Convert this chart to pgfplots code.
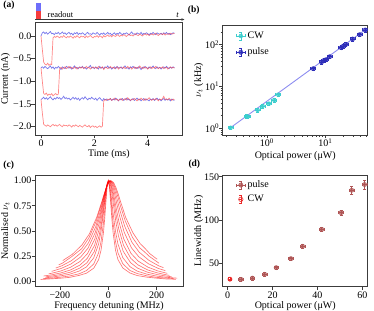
\documentclass[border=0pt]{standalone}
\usepackage{fontspec}
\setmainfont{Liberation Serif}
\usepackage{pgfplots}
\pgfplotsset{compat=1.18}
\usepackage{pgfplotstable}
\usetikzlibrary{arrows.meta}

\definecolor{trblue}{RGB}{85,85,230}
\definecolor{trred}{RGB}{255,70,70}
\definecolor{schblue}{RGB}{110,110,250}
\definecolor{schred}{RGB}{245,60,60}
\definecolor{cwc}{RGB}{60,205,205}
\definecolor{pulseb}{RGB}{45,45,185}
\definecolor{fitl}{RGB}{140,140,240}
\definecolor{pulsed}{RGB}{175,85,85}
\definecolor{cwd}{RGB}{235,40,40}
\definecolor{frame}{RGB}{60,60,60}

\pgfplotsset{
  myaxis/.style={
    scale only axis,
    axis line style={line width=0.6bp, frame},
    tick align=outside,
    tick pos=left,
    major tick length=3.5bp,
    minor tick length=2bp,
    every tick/.style={frame, line width=0.6bp},
    tick label style={font=\fontsize{10bp}{12bp}\selectfont},
    xticklabel style={inner sep=1bp},
    yticklabel style={inner sep=1bp, xshift=1bp},
    label style={font=\fontsize{10bp}{12bp}\selectfont, inner sep=1bp},
  },
  ccurve/.style={red, opacity=0.55, line width=0.65bp, mark=none},
}

\pgfplotstableread{
t b1 r1 b2 r2 b3 r3
0.00 0.00 0.00 -0.70 -0.70 -1.40 -1.40
0.05 0.07 -0.30 -0.68 -1.00 -1.38 -1.70
0.10 0.09 -0.58 -0.71 -1.27 -1.35 -1.95
0.15 0.05 -0.62 -0.67 -1.29 -1.39 -1.97
0.20 0.08 -0.64 -0.70 -1.26 -1.36 -1.99
0.25 0.04 -0.60 -0.72 -1.31 -1.40 -1.96
0.30 0.07 -0.65 -0.69 -1.28 -1.37 -1.98
0.35 0.10 -0.62 -0.66 -1.30 -1.34 -2.00
0.40 0.05 -0.63 -0.71 -1.27 -1.38 -1.97
0.45 0.06 -0.04 -0.68 -1.32 -1.41 -1.95
0.50 0.03 -0.01 -0.73 -1.29 -1.37 -1.98
0.55 0.07 -0.03 -0.69 -1.27 -1.39 -1.96
0.60 0.05 0.00 -0.71 -1.30 -1.35 -1.99
0.65 0.08 -0.02 -0.67 -1.28 -1.38 -1.97
0.70 0.04 -0.04 -0.70 -0.72 -1.36 -1.95
0.75 0.06 -0.01 -0.74 -0.69 -1.40 -1.98
0.80 0.09 -0.03 -0.68 -0.73 -1.37 -2.00
0.85 0.05 0.01 -0.70 -0.70 -1.33 -1.96
0.90 0.07 -0.02 -0.72 -0.68 -1.38 -1.98
0.95 0.03 -0.04 -0.67 -0.72 -1.36 -1.97
1.00 0.06 -0.01 -0.69 -0.70 -1.39 -1.99
1.05 0.08 -0.03 -0.71 -0.67 -1.37 -1.96
1.10 0.04 0.00 -0.68 -0.71 -1.41 -1.98
1.15 0.06 -0.02 -0.73 -0.69 -1.38 -2.01
1.20 0.02 -0.05 -0.70 -0.72 -1.35 -1.97
1.25 0.07 -0.01 -0.66 -0.70 -1.39 -1.99
1.30 0.05 -0.03 -0.71 -0.68 -1.36 -1.96
1.35 0.08 0.01 -0.69 -0.73 -1.40 -1.98
1.40 0.03 -0.02 -0.72 -0.70 -1.37 -2.00
1.45 0.06 -0.04 -0.68 -0.69 -1.42 -1.97
1.50 0.04 0.00 -0.70 -0.71 -1.38 -1.99
1.55 0.07 -0.02 -0.67 -0.68 -1.36 -2.01
1.60 0.05 -0.01 -0.71 -0.72 -1.39 -1.98
1.65 0.02 -0.04 -0.69 -0.70 -1.34 -1.96
1.70 0.06 0.00 -0.73 -0.67 -1.38 -1.99
1.75 0.08 -0.03 -0.70 -0.71 -1.41 -2.00
1.80 0.04 -0.01 -0.68 -0.69 -1.37 -1.97
1.85 0.05 0.01 -0.65 -0.73 -1.39 -2.02
1.90 0.03 -0.02 -0.71 -0.70 -1.35 -1.99
1.95 0.07 -0.04 -0.69 -0.68 -1.38 -1.98
2.00 0.05 -0.01 -0.72 -0.71 -1.40 -2.01
2.05 0.04 -0.02 -0.68 -0.69 -1.37 -1.99
2.10 0.08 0.01 -0.70 -0.72 -1.42 -2.02
2.15 0.05 -0.03 -0.73 -0.67 -1.38 -2.00
2.20 0.02 0.00 -0.67 -0.70 -1.36 -1.98
2.25 0.06 -0.01 -0.71 -0.71 -1.40 -2.01
2.30 0.04 -0.04 -0.69 -0.68 -1.43 -1.99
2.35 0.07 0.01 -0.72 -0.74 -1.38 -1.43
2.40 0.03 -0.02 -0.68 -0.70 -1.41 -1.40
2.45 0.05 0.00 -0.70 -0.69 -1.39 -1.42
2.50 0.08 0.02 -0.66 -0.72 -1.42 -1.39
2.55 0.04 -0.01 -0.71 -0.70 -1.40 -1.41
2.60 0.06 0.01 -0.69 -0.67 -1.38 -1.38
2.65 0.02 -0.02 -0.73 -0.71 -1.42 -1.42
2.70 0.05 0.02 -0.70 -0.69 -1.39 -1.40
2.75 0.07 0.00 -0.68 -0.72 -1.41 -1.37
2.80 0.03 -0.01 -0.72 -0.70 -1.37 -1.41
2.85 0.06 0.03 -0.67 -0.68 -1.40 -1.39
2.90 0.04 0.01 -0.70 -0.73 -1.43 -1.43
2.95 0.08 -0.01 -0.71 -0.69 -1.39 -1.40
3.00 0.05 0.02 -0.68 -0.70 -1.41 -1.38
3.05 0.03 0.00 -0.72 -0.71 -1.38 -1.42
3.10 0.06 0.03 -0.69 -0.68 -1.42 -1.40
3.15 0.04 0.01 -0.66 -0.72 -1.40 -1.38
3.20 0.07 -0.01 -0.71 -0.70 -1.37 -1.41
3.25 0.05 0.02 -0.70 -0.67 -1.41 -1.36
3.30 0.02 0.04 -0.73 -0.71 -1.39 -1.40
3.35 0.06 0.01 -0.68 -0.69 -1.43 -1.42
3.40 0.09 0.02 -0.70 -0.73 -1.40 -1.39
3.45 0.04 0.00 -0.67 -0.70 -1.38 -1.41
3.50 0.05 0.03 -0.71 -0.68 -1.42 -1.38
3.55 0.03 0.05 -0.69 -0.72 -1.40 -1.40
3.60 0.07 0.02 -0.72 -0.69 -1.37 -1.43
3.65 0.05 0.01 -0.68 -0.71 -1.41 -1.39
3.70 0.04 0.04 -0.70 -0.66 -1.39 -1.41
3.75 0.08 0.02 -0.74 -0.70 -1.43 -1.37
3.80 0.03 0.00 -0.69 -0.72 -1.40 -1.40
3.85 0.06 0.03 -0.71 -0.68 -1.38 -1.42
3.90 0.04 0.05 -0.67 -0.71 -1.42 -1.38
3.95 0.07 0.02 -0.70 -0.69 -1.39 -1.41
4.00 0.05 0.04 -0.72 -0.73 -1.41 -1.39
4.05 0.02 0.01 -0.68 -0.70 -1.43 -1.36
4.10 0.06 0.03 -0.71 -0.68 -1.39 -1.40
4.15 0.04 0.05 -0.69 -0.72 -1.41 -1.42
4.20 0.08 0.02 -0.66 -0.69 -1.38 -1.39
4.25 0.05 0.04 -0.70 -0.71 -1.42 -1.41
4.30 0.03 0.06 -0.72 -0.67 -1.40 -1.38
4.35 0.07 0.03 -0.68 -0.70 -1.37 -1.40
4.40 0.05 0.01 -0.71 -0.72 -1.41 -1.43
4.45 0.04 0.04 -0.69 -0.69 -1.39 -1.39
4.50 0.06 0.05 -0.73 -0.71 -1.43 -1.41
4.55 0.03 0.03 -0.70 -0.68 -1.40 -1.38
4.60 0.07 0.06 -0.68 -0.72 -1.38 -1.33
4.65 0.05 0.02 -0.71 -0.70 -1.42 -1.40
4.70 0.08 0.04 -0.67 -0.69 -1.39 -1.39
4.75 0.04 0.05 -0.70 -0.73 -1.41 -1.41
4.80 0.06 0.03 -0.72 -0.70 -1.40 -1.37
4.85 0.03 0.06 -0.69 -0.68 -1.43 -1.40
4.90 0.05 0.04 -0.71 -0.71 -1.39 -1.42
4.95 0.07 0.05 -0.68 -0.69 -1.41 -1.39
5.00 0.06 0.06 -0.70 -0.71 -1.42 -1.41
}\tracedata

\begin{document}
\fontsize{10bp}{12bp}\selectfont
\begin{tikzpicture}[x=1bp,y=1bp]
\useasboundingbox (0,0) rectangle (374,311);

% ---------------- (a)
\begin{axis}[myaxis, at={(35bp,176bp)}, anchor=south west,
  width=147.7bp, height=112.3bp,
  xmin=-0.225, xmax=5.31, ymin=-2.183, ymax=0.293,
  xtick={0,2,4}, xticklabels={0,2,4},
  ytick={-2,-1.5,-1,-0.5,0}, yticklabels={−2.0,−1.5,−1.0,−0.5,0.0},
  xlabel={Time (ms)}, ylabel={Current (nA)},
  xlabel style={at={(axis description cs:0.5,-0.19)}, anchor=base},
  ylabel style={at={(axis description cs:-0.2,0.5)}, anchor=center}]
\addplot[trblue, opacity=0.8, line width=0.7bp] table[x=t, y=b1] {\tracedata};
\addplot[trred, opacity=0.65, line width=0.7bp] table[x=t, y=r1] {\tracedata};
\addplot[trblue, opacity=0.8, line width=0.7bp] table[x=t, y=b2] {\tracedata};
\addplot[trred, opacity=0.65, line width=0.7bp] table[x=t, y=r2] {\tracedata};
\addplot[trblue, opacity=0.8, line width=0.7bp] table[x=t, y=b3] {\tracedata};
\addplot[trred, opacity=0.65, line width=0.7bp] table[x=t, y=r3] {\tracedata};
\end{axis}

% schematic above (a)
\fill[schblue] (35.7,300) rectangle (41,308.3);
\fill[schred] (35.7,291.7) rectangle (41,300);
\draw[-{Stealth[length=3bp,width=2.5bp]}, frame, line width=0.6bp] (35,291.5) -- (184.5,291.5);
\node[anchor=base west, inner sep=0, font=\fontsize{8.5bp}{10bp}\selectfont] at (47.5,293.5) {readout};
\node[anchor=base, inner sep=0, font=\itshape\fontsize{8.5bp}{10bp}\selectfont] at (177.5,294) {t};

% ---------------- (b)
\begin{axis}[myaxis, at={(222.7bp,176bp)}, anchor=south west,
  width=145bp, height=110bp,
  xmode=log, ymode=log,
  xmin=0.174, xmax=53.4, ymin=0.691, ymax=296,
  xtick={1,10}, xticklabels={10\textsuperscript{0},10\textsuperscript{1}},
  ytick={1,10,100}, yticklabels={10\textsuperscript{0},10\textsuperscript{1},10\textsuperscript{2}},
  minor xtick={0.2,0.3,0.4,0.5,0.6,0.7,0.8,0.9,2,3,4,5,6,7,8,9,20,30,40,50},
  minor ytick={0.7,0.8,0.9,2,3,4,5,6,7,8,9,20,30,40,50,60,70,80,90,200},
  xticklabel style={yshift=1bp},
  xlabel={Optical power (μW)}, ylabel={$\nu_t$ (kHz)},
  xlabel style={at={(axis description cs:0.5,-0.21)}, anchor=base},
  ylabel style={at={(axis description cs:-0.165,0.5)}, anchor=center},
  legend cell align=left,
  legend style={draw=none, fill=none, at={(axis description cs:0.07,0.975)}, anchor=north west,
    row sep=4bp, font=\fontsize{10bp}{12bp}\selectfont}]
\addplot[forget plot, fitl, line width=0.9bp] coordinates {(0.225,0.98) (51.3,241)};
\addplot[forget plot, only marks, mark=*, mark size=2bp, cwc,
  mark options={fill=cwc, fill opacity=0.8, draw opacity=0.8},
  error bars/.cd, x dir=both, x explicit relative, y dir=both, y explicit relative,
  error bar style={line width=0.6bp, cwc},
  error mark options={rotate=90, mark size=1.5bp, line width=0.6bp, cwc}]
  coordinates {
  (0.238,1.03) +- (0.1,0.1)
  (0.449,1.94) +- (0.1,0.1)
  (0.467,1.90) +- (0.1,0.1)
  (0.692,2.74) +- (0.1,0.1)
  (0.844,3.41) +- (0.1,0.1)
  (1.08,3.88) +- (0.1,0.1)
  (1.33,4.75) +- (0.1,0.1)
  (1.56,6.37) +- (0.1,0.1)
  };
\addplot[forget plot, only marks, mark=*, mark size=2.2bp, pulseb,
  mark options={fill=pulseb, fill opacity=0.75, draw opacity=0.75},
  error bars/.cd, x dir=both, x explicit relative, y dir=both, y explicit relative,
  error bar style={line width=0.6bp, pulseb},
  error mark options={rotate=90, mark size=1.5bp, line width=0.6bp, pulseb}]
  coordinates {
  (6.22,26.7) +- (0.1,0.1)
  (8.67,38.6) +- (0.1,0.1)
  (9.6,42.4) +- (0.1,0.1)
  (10.3,43.7) +- (0.1,0.1)
  (11.9,51.6) +- (0.1,0.1)
  (18.8,84.8) +- (0.1,0.1)
  (20.4,93) +- (0.1,0.1)
  (22.6,102) +- (0.1,0.1)
  (29.5,137) +- (0.1,0.1)
  (38.9,174) +- (0.1,0.1)
  (48.5,225) +- (0.1,0.1)
  };
\addlegendimage{legend image code/.code={%
  \draw[cwc, line width=0.6bp] (0bp,0bp)--(9bp,0bp) (0bp,-1.5bp)--(0bp,1.5bp) (9bp,-1.5bp)--(9bp,1.5bp)
    (4.5bp,-4bp)--(4.5bp,4bp) (3bp,-4bp)--(6bp,-4bp) (3bp,4bp)--(6bp,4bp);
  \fill[cwc, fill opacity=0.8] (4.5bp,0bp) circle (2bp);}}
\addlegendentry{CW}
\addlegendimage{legend image code/.code={%
  \draw[pulseb, line width=0.6bp] (0bp,0bp)--(9bp,0bp) (0bp,-1.5bp)--(0bp,1.5bp) (9bp,-1.5bp)--(9bp,1.5bp)
    (4.5bp,-4bp)--(4.5bp,4bp) (3bp,-4bp)--(6bp,-4bp) (3bp,4bp)--(6bp,4bp);
  \fill[pulseb, fill opacity=0.75] (4.5bp,0bp) circle (2.2bp);}}
\addlegendentry{pulse}
\end{axis}

% ---------------- (c)
\begin{axis}[myaxis, at={(35bp,24.3bp)}, anchor=south west,
  width=148bp, height=111.7bp,
  xmin=-303, xmax=309, ymin=-0.057, ymax=1.057,
  xtick={-200,0,200}, xticklabels={−200,0,200},
  ytick={0,0.25,0.5,0.75,1}, yticklabels={0.00,0.25,0.50,0.75,1.00},
  xlabel={Frequency detuning (MHz)}, ylabel={Normalised $\nu_t$},
  xlabel style={at={(axis description cs:0.5,-0.195)}, anchor=base},
  ylabel style={at={(axis description cs:-0.2,0.5)}, anchor=center}]
\addplot[ccurve] coordinates {(-280,0.015) (-240,0.021) (-200,0.027) (-160,0.036) (-120,0.056) (-90,0.078) (-60,0.128) (-40,0.212) (-30,0.306) (-20,0.48) (-15,0.614) (-10,0.778) (-5,0.933) (0,1) (5,0.933) (10,0.778) (15,0.614) (20,0.48) (30,0.306) (40,0.214) (60,0.130) (90,0.079) (120,0.054) (160,0.038) (200,0.028) (240,0.020) (280,0.017)};
\addplot[ccurve] coordinates {(-270,0.023) (-240,0.028) (-200,0.037) (-160,0.050) (-120,0.072) (-90,0.104) (-60,0.170) (-40,0.281) (-30,0.392) (-20,0.578) (-15,0.704) (-10,0.840) (-5,0.954) (0,1) (5,0.954) (10,0.840) (15,0.704) (20,0.578) (30,0.392) (40,0.281) (60,0.172) (90,0.104) (120,0.074) (160,0.051) (200,0.036) (240,0.029) (270,0.024)};
\addplot[ccurve] coordinates {(-260,0.032) (-240,0.037) (-200,0.050) (-160,0.067) (-120,0.099) (-90,0.141) (-60,0.231) (-40,0.369) (-30,0.494) (-20,0.676) (-15,0.784) (-10,0.890) (-5,0.970) (0,1) (5,0.970) (10,0.890) (15,0.784) (20,0.676) (30,0.494) (40,0.369) (60,0.233) (90,0.142) (120,0.098) (160,0.068) (200,0.049) (240,0.037) (285,0.028)};
\addplot[ccurve] coordinates {(-258,0.042) (-238,0.048) (-198,0.064) (-158,0.087) (-118,0.128) (-88,0.182) (-58,0.293) (-38,0.450) (-28,0.580) (-18,0.748) (-13,0.839) (-8,0.920) (-3,0.979) (2,1) (7,0.979) (12,0.920) (17,0.839) (22,0.748) (32,0.580) (42,0.450) (62,0.295) (92,0.183) (122,0.127) (162,0.088) (202,0.064) (242,0.048) (262,0.042)};
\addplot[ccurve] coordinates {(-267,0.050) (-237,0.060) (-197,0.080) (-157,0.109) (-117,0.159) (-87,0.225) (-57,0.354) (-37,0.523) (-27,0.651) (-17,0.801) (-12,0.876) (-7,0.940) (-2,0.984) (3,1) (8,0.984) (13,0.940) (18,0.876) (23,0.801) (33,0.651) (43,0.523) (63,0.356) (93,0.226) (123,0.160) (163,0.110) (203,0.081) (243,0.060) (253,0.056)};
\addplot[ccurve] coordinates {(-246,0.072) (-236,0.076) (-196,0.100) (-156,0.137) (-116,0.196) (-86,0.273) (-56,0.417) (-36,0.591) (-26,0.711) (-16,0.842) (-11,0.903) (-6,0.954) (-1,0.988) (4,1) (9,0.988) (14,0.954) (19,0.903) (24,0.842) (34,0.711) (44,0.591) (64,0.420) (94,0.275) (124,0.198) (164,0.138) (204,0.101) (244,0.076)};
\addplot[ccurve] coordinates {(-234,0.096) (-194,0.126) (-154,0.170) (-114,0.240) (-84,0.327) (-54,0.482) (-34,0.654) (-24,0.763) (-14,0.874) (-9,0.924) (-4,0.964) (1,0.991) (6,1) (11,0.991) (16,0.964) (21,0.924) (26,0.874) (36,0.763) (46,0.654) (66,0.485) (96,0.330) (126,0.242) (166,0.172) (206,0.126) (236,0.103)};
\addplot[ccurve] coordinates {(-217,0.129) (-192,0.152) (-152,0.203) (-112,0.283) (-82,0.380) (-52,0.541) (-32,0.705) (-22,0.803) (-12,0.899) (-7,0.940) (-2,0.972) (8,1) (18,0.972) (23,0.940) (28,0.899) (38,0.803) (48,0.705) (68,0.545) (98,0.385) (128,0.287) (168,0.206) (208,0.152) (228,0.133)};
\addplot[ccurve] coordinates {(-205,0.161) (-190,0.177) (-150,0.245) (-110,0.322) (-80,0.430) (-50,0.596) (-30,0.752) (-20,0.838) (-10,0.919) (0,0.978) (10,1) (20,0.978) (30,0.919) (40,0.838) (50,0.752) (70,0.600) (100,0.435) (130,0.330) (150,0.290) (170,0.245) (210,0.177)};
\addplot[ccurve] coordinates {(-188,0.204) (-148,0.267) (-108,0.362) (-78,0.470) (-48,0.634) (-28,0.781) (-18,0.860) (-8,0.931) (2,0.981) (12,1) (22,0.981) (32,0.931) (42,0.860) (52,0.781) (72,0.634) (102,0.480) (132,0.372) (150,0.330) (172,0.272) (202,0.217)};
\end{axis}

% ---------------- (d)
\begin{axis}[myaxis, at={(222.7bp,24.3bp)}, anchor=south west,
  width=145bp, height=111.7bp,
  xmin=-2.23, xmax=62.4, ymin=23, ymax=152,
  xtick={0,20,40,60}, xticklabels={0,20,40,60},
  ytick={50,100,150}, yticklabels={50,100,150},
  xlabel={Optical power (μW)}, ylabel={Linewidth (MHz)},
  xlabel style={at={(axis description cs:0.5,-0.195)}, anchor=base},
  ylabel style={at={(axis description cs:-0.165,0.5)}, anchor=center},
  legend cell align=left,
  legend style={draw=none, fill=none, at={(axis description cs:0.07,0.985)}, anchor=north west,
    row sep=2bp, font=\fontsize{10bp}{12bp}\selectfont}]
\addplot[forget plot, only marks, mark=*, mark size=2.2bp, pulsed,
  mark options={fill=pulsed, fill opacity=0.75, draw opacity=0.75},
  error bars/.cd, x dir=both, x explicit, y dir=both, y explicit,
  error bar style={line width=0.6bp, pulsed},
  error mark options={rotate=90, mark size=1.5bp, line width=0.6bp, pulsed}]
  coordinates {
  (5.9,31.5) +- (1.0,2.0)
  (11.0,32.9) +- (1.0,2.0)
  (16.5,37.3) +- (1.0,2.0)
  (21.6,45.0) +- (1.0,2.0)
  (28.2,55.4) +- (1.0,2.0)
  (33.4,69.6) +- (1.0,2.0)
  (41.9,89.2) +- (1.0,2.5)
  (50.5,108.5) +- (1.0,3.0)
  (55.3,134.4) +- (1.2,4.5)
  (61.0,141.0) +- (1.2,5.0)
  };
\addplot[forget plot, only marks, mark=o, mark size=2.2bp, cwd,
  error bars/.cd, x dir=both, x explicit, y dir=both, y explicit,
  error bar style={line width=0.6bp, cwd},
  error mark options={rotate=90, mark size=1.5bp, line width=0.6bp, cwd}]
  coordinates {(1.0,31.7) +- (0.8,1.8)};
\addlegendimage{legend image code/.code={%
  \draw[pulsed, line width=0.6bp] (0bp,0bp)--(9bp,0bp) (0bp,-1.5bp)--(0bp,1.5bp) (9bp,-1.5bp)--(9bp,1.5bp)
    (4.5bp,-4bp)--(4.5bp,4bp) (3bp,-4bp)--(6bp,-4bp) (3bp,4bp)--(6bp,4bp);
  \fill[pulsed, fill opacity=0.75] (4.5bp,0bp) circle (2.2bp);}}
\addlegendentry{pulse}
\addlegendimage{legend image code/.code={%
  \draw[cwd, line width=0.6bp] (4.5bp,-4bp)--(4.5bp,4bp) (3bp,-4bp)--(6bp,-4bp) (3bp,4bp)--(6bp,4bp) (3bp,0bp)--(6bp,0bp);
  \draw[cwd, line width=0.6bp] (4.5bp,0bp) circle (2.2bp);}}
\addlegendentry{CW}
\end{axis}

% panel labels
\node[anchor=base west, inner sep=0, font=\bfseries\fontsize{9.5bp}{11bp}\selectfont] at (3.3,303.7) {(a)};
\node[anchor=base west, inner sep=0, font=\bfseries\fontsize{9.5bp}{11bp}\selectfont] at (187.7,299) {(b)};
\node[anchor=base west, inner sep=0, font=\bfseries\fontsize{9.5bp}{11bp}\selectfont] at (3.3,143.7) {(c)};
\node[anchor=base west, inner sep=0, font=\bfseries\fontsize{9.5bp}{11bp}\selectfont] at (188.3,144.3) {(d)};
\end{tikzpicture}
\end{document}
